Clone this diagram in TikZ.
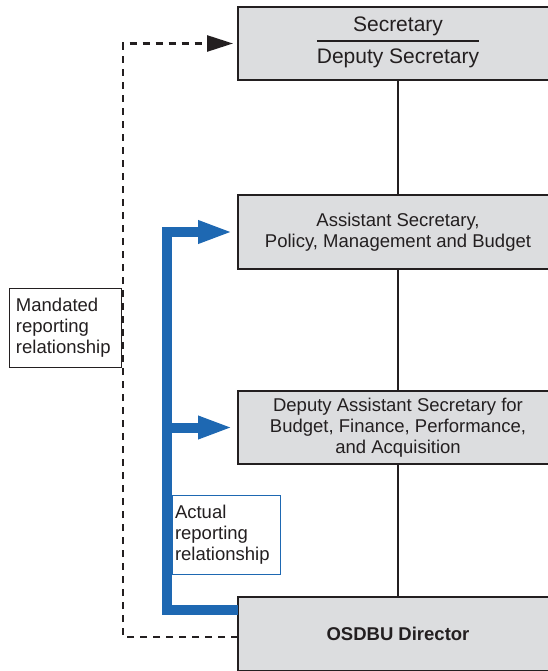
\documentclass[tikz,border=0pt]{standalone}
\usepackage{fontspec}
\setmainfont{Liberation Sans}
\usetikzlibrary{arrows.meta}
\definecolor{boxgray}{RGB}{220,221,223}
\definecolor{inkdark}{RGB}{35,31,32}
\definecolor{reportblue}{RGB}{30,104,178}
\tikzset{
  orgbox/.style = {rectangle, draw=inkdark, fill=boxgray, line width=1.4pt,
                   minimum width=320pt, minimum height=#1,
                   inner sep=0pt, outer sep=0pt, align=center, text=inkdark,
                   font=\fontsize{18.5}{21}\selectfont},
  orgbox/.default = 73pt,
  notebox/.style = {rectangle, draw=#1, fill=white, align=left, text=inkdark,
                    inner ysep=0pt, outer sep=0pt,
                    font=\fontsize{18.5}{21}\selectfont},
  actual/.style = {draw=reportblue, line width=10pt, line join=miter,
                   -{Triangle[length=35pt,width=21pt]}, shorten >=5pt},
  mandated/.style = {draw=inkdark, line width=2.6pt, dash pattern=on 7pt off 6pt,
                     -{Triangle[length=26pt,width=16pt]}, shorten >=5pt},
  chain/.style = {draw=inkdark, line width=2pt}
}
\begin{document}
\begin{tikzpicture}[x=1pt, y=-1pt]
	\clip (0,0) rectangle (548,671);
	\def \cx{398}

	% Boxes
	\node[orgbox] (sec) at (\cx,43.5) {\raisebox{2.5pt}[\height][\depth]{\fontsize{21}{25}\selectfont%
		\setlength\tabcolsep{0pt}\setlength\arrayrulewidth{1.2pt}%
		\renewcommand\arraystretch{1.25}%
		\begin{tabular}{c}Secretary\\\hline Deputy Secretary\end{tabular}}};
	\node[orgbox=74pt] (asec) at (\cx,232) {Assistant Secretary,\\Policy, Management and Budget};
	\node[orgbox] (dasec) at (\cx,427.5) {Deputy Assistant Secretary for\\Budget, Finance, Performance,\\and Acquisition};
	\node[orgbox=74pt] (osdbu) at (\cx,634) {\textbf{OSDBU Director}};

	% Chain of command
	\draw[chain] (sec) -- (asec);
	\draw[chain] (asec) -- (dasec);
	\draw[chain] (dasec) -- (osdbu);

	% Labels
	\node[notebox=inkdark, line width=1pt, minimum width=112pt, minimum height=79pt,
		text width=98pt, inner xsep=7pt] (mandlbl) at (65,327.5)
		{Mandated\\reporting\\relationship};
	\node[notebox=reportblue, line width=0.8pt, minimum width=108pt, minimum height=79pt,
		text width=102pt, inner xsep=3pt] (actlbl) at (226,534.5)
		{Actual\\reporting\\relationship};

	% Mandated (dashed)
	\coordinate (mbend) at (123,43.5);
	\draw[mandated] ([yshift=-3pt]osdbu.west) -| (mbend) -- (sec.west);

	% Actual (blue)
	\coordinate (abend) at (167,232);
	\draw[actual] ([yshift=24pt]osdbu.west) -| (abend) -- (asec.west);
	\draw[actual] (abend |- dasec.west) -- (dasec.west);
\end{tikzpicture}
\end{document}
